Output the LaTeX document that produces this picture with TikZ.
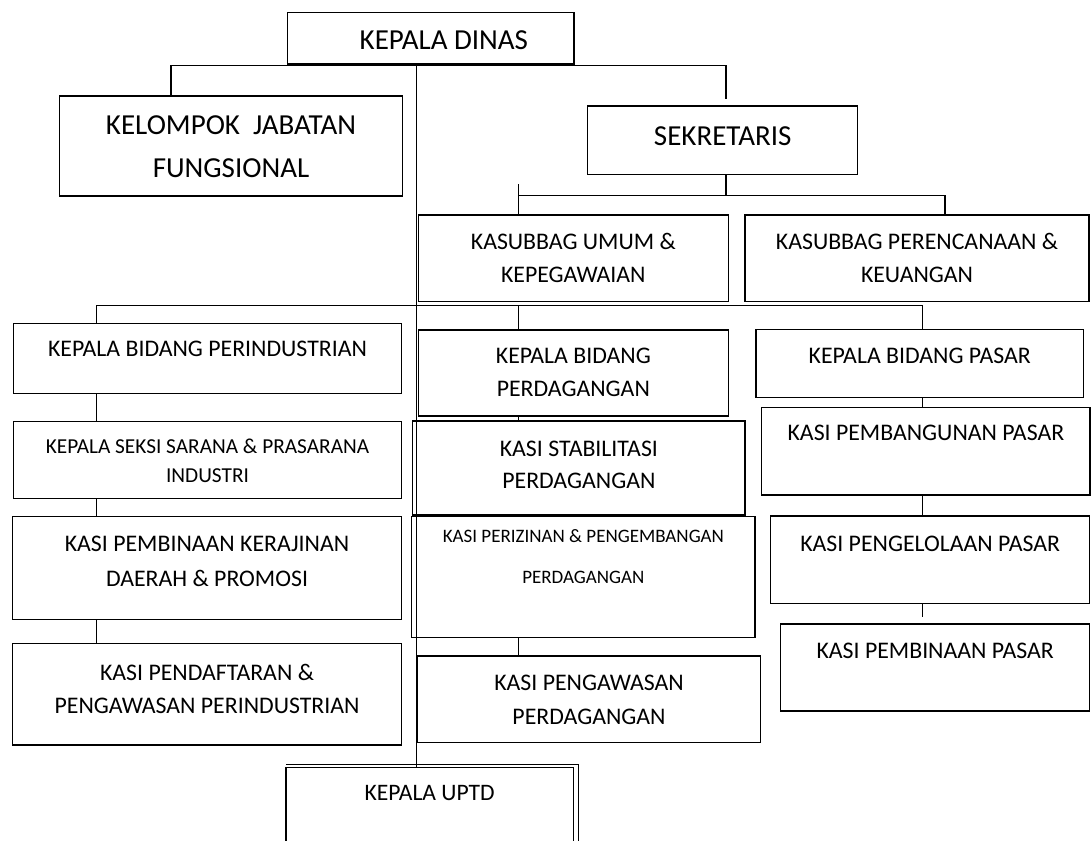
\documentclass[tikz,border=0pt]{standalone}
\usepackage{fontspec}
\setmainfont{Carlito}
\newcommand\boxtext[6]{\parbox[t][#2pt][t]{#1pt}{\fontsize{#3pt}{#4pt}\selectfont\vspace*{#5pt}\centering\strut #6\par}}
\begin{document}
\begin{tikzpicture}[x=1pt,y=-1pt,
  box/.style={draw=black,line width=1.4pt,inner sep=0pt,outer sep=0pt,anchor=north west,rectangle},
  conn/.style={draw=black,line width=1.5pt}]
\useasboundingbox (0,0) rectangle (1091,840);
\clip (0,0) rectangle (1091,840);
% boxes
\node[box] (kd) at (287.7,12.7) {\boxtext{286.3}{51.3}{29}{40}{9.3}{\hspace*{26pt}KEPALA DINAS}};
\node[box] (kjf) at (59.3,96) {\boxtext{343.4}{100}{29}{43.4}{7.9}{KELOMPOK\ \ JABATAN\\FUNGSIONAL}};
\node[box] (sek) at (587.7,106) {\boxtext{270}{68.3}{29}{40}{11.7}{SEKRETARIS}};
\node[box] (ku) at (418.3,215) {\boxtext{310}{86.7}{23.8}{33.4}{10.9}{KASUBBAG UMUM \&\\KEPEGAWAIAN}};
\node[box] (kp) at (745,215) {\boxtext{344}{86.7}{23.8}{33.4}{10.9}{KASUBBAG PERENCANAAN \&\\KEUANGAN}};
\node[box] (kbi) at (13.3,323.3) {\boxtext{388.4}{70}{23.8}{33.4}{10}{KEPALA BIDANG PERINDUSTRIAN}};
\node[box] (kbd) at (418.3,330) {\boxtext{310}{86}{23.8}{33.4}{9.9}{KEPALA BIDANG\\PERDAGANGAN}};
\node[box] (kbp) at (756,329.3) {\boxtext{327.3}{68}{23.8}{33.4}{10.6}{KEPALA BIDANG PASAR}};
\node[box] (kss) at (13.3,421.7) {\boxtext{388.4}{76.6}{21.3}{29.4}{11}{KEPALA SEKSI SARANA \& PRASARANA\\INDUSTRI}};
\node[box] (kst) at (412.7,421) {\boxtext{332.3}{94}{23.8}{32.3}{12.4}{KASI STABILITASI\\PERDAGANGAN}};
\node[box] (kpb) at (761.7,407.3) {\boxtext{328.3}{87.7}{23.8}{33.4}{10}{KASI PEMBANGUNAN PASAR}};
\node[box] (kpk) at (12.3,516.7) {\boxtext{389.4}{102.6}{23.8}{34.3}{11}{KASI PEMBINAAN KERAJINAN\\DAERAH \& PROMOSI}};
\node[box] (kpz) at (411.7,516.7) {\boxtext{343.3}{121}{19}{40.6}{-2.4}{KASI PERIZINAN \& PENGEMBANGAN\\PERDAGANGAN}};
\node[box] (kpl) at (770.7,516) {\boxtext{318.8}{87.3}{23.8}{33.4}{12.3}{KASI PENGELOLAAN PASAR}};
\node[box] (kpd) at (12.3,643.3) {\boxtext{389.4}{101.7}{23.8}{33.3}{13.4}{KASI PENDAFTARAN \&\\PENGAWASAN PERINDUSTRIAN}};
\node[box] (kpw) at (417.3,656) {\boxtext{343.4}{86.7}{23.8}{33.3}{11.4}{KASI PENGAWASAN\\PERDAGANGAN}};
\node[box] (kpp) at (780.7,624) {\boxtext{308.8}{87}{23.8}{33.4}{10.9}{KASI PEMBINAAN PASAR}};
\node[box] (kuptd) at (286,767.3) {\boxtext{287.3}{100}{23.6}{33}{10.3}{KEPALA UPTD}};
\draw[box] ([yshift=3pt]kuptd.north west) -| ([xshift=5pt]kuptd.south east);
% connector coordinates
\coordinate (xtrunk) at (416.7,0);
\coordinate (b1l) at (171,65.7);
\coordinate (b1r) at (726,65.7);
\coordinate (s1) at (726,99);
\coordinate (b2l) at (518.5,195.7);
\coordinate (b2r) at (945,195.7);
\coordinate (b2s) at (518.5,184);
\coordinate (b3l) at (96.7,305.3);
\coordinate (b3m) at (518.3,305.3);
\coordinate (b3r) at (922.3,305.3);
\coordinate (stub) at (922.3,616.7);
% connectors
\draw[conn] (xtrunk |- kd.south) -- (xtrunk |- kuptd.north);
\draw[conn] (b1l |- kjf.north) -- (b1l) -- (b1r) -- (s1);
\draw[conn] (b1r |- sek.south) -- (b1r |- b2l);
\draw[conn] (b2s) -- (b2l |- ku.north);
\draw[conn] (b2l) -- (b2r) -- (b2r |- kp.north);
\draw[conn] (b3l |- kbi.north) -- (b3l) -- (b3r) -- (b3r |- kbp.north);
\draw[conn] (b3m) -- (b3m |- kbd.north);
\draw[conn] (b3l |- kbi.south) -- (b3l |- kss.north);
\draw[conn] (b3l |- kss.south) -- (b3l |- kpk.north);
\draw[conn] (b3l |- kpk.south) -- (b3l |- kpd.north);
\draw[conn] (b3m |- kbd.south) -- (b3m |- kst.north);
\draw[conn] (b3m |- kpz.south) -- (b3m |- kpw.north);
\draw[conn] (b3r |- kbp.south) -- (b3r |- kpb.north);
\draw[conn] (b3r |- kpb.south) -- (b3r |- kpl.north);
\draw[conn] (b3r |- kpl.south) -- (stub);
\end{tikzpicture}
\end{document}
